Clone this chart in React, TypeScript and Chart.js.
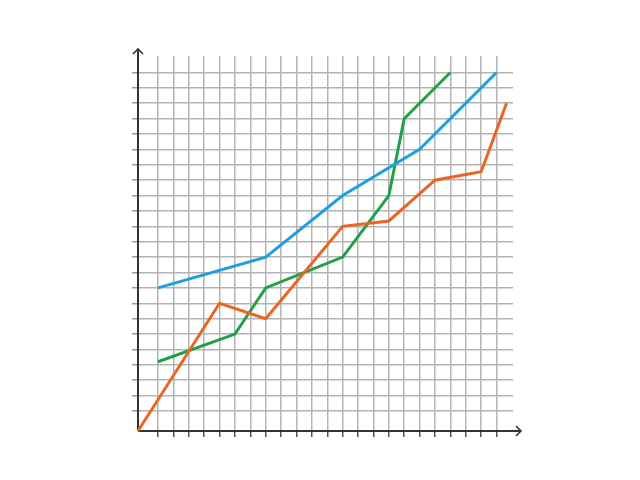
import React, { useEffect, useRef } from "react";
import { Chart, registerables } from "chart.js";

Chart.register(...registerables);

// Grid line positions (in grid units)
const gridTicks = [1, 2, 3, 4, 5, 6, 7, 8, 9, 10, 11, 12, 13, 14, 15, 16, 17, 18, 19, 20, 21, 22, 23];
const axisMin = -0.3;
const axisMax = 24.07;

const blueX = [1, 8, 13, 18, 23];
const blueY = [9, 11, 15, 18, 23];

const orangeX = [-0.3, 5, 8, 13, 16, 19, 22, 23.65];
const orangeY = [-0.3, 8, 7, 13, 13.35, 16, 16.55, 21];

const greenX = [1, 6, 8, 13, 16, 17, 20];
const greenY = [4.2, 6, 9, 11, 15, 20, 23];

const toPoints = (xs: number[], ys: number[]) => xs.map((x, i) => ({ x, y: ys[i] }));

const axesPlugin = {
  id: "axesArrows",
  beforeDatasetsDraw(chart: any) {
    const { ctx, chartArea } = chart;
    const x0 = chartArea.left;
    const y0 = chartArea.bottom;
    const xEnd = chartArea.right + 8;
    const yEnd = chartArea.top - 7;
    ctx.save();
    ctx.strokeStyle = "#333333";
    ctx.lineWidth = 2;
    ctx.lineCap = "butt";
    ctx.beginPath();
    ctx.moveTo(x0, y0);
    ctx.lineTo(xEnd, y0);
    ctx.moveTo(x0, y0);
    ctx.lineTo(x0, yEnd);
    ctx.stroke();
    ctx.lineWidth = 1.6;
    ctx.beginPath();
    ctx.moveTo(xEnd - 5, y0 - 5);
    ctx.lineTo(xEnd, y0);
    ctx.lineTo(xEnd - 5, y0 + 5);
    ctx.moveTo(x0 - 5, yEnd + 5);
    ctx.lineTo(x0, yEnd);
    ctx.lineTo(x0 + 5, yEnd + 5);
    ctx.stroke();
    ctx.restore();
  },
};

export default function App() {
  const canvasRef = useRef<HTMLCanvasElement | null>(null);

  useEffect(() => {
    if (!canvasRef.current) return;
    const setTicks = (scale: any) => {
      scale.ticks = gridTicks.map((v) => ({ value: v }));
    };
    const chart = new Chart(canvasRef.current, {
      type: "scatter",
      data: {
        datasets: [
          {
            label: "Blue",
            data: toPoints(blueX, blueY),
            borderColor: "#1f9ee0",
            showLine: true,
            borderWidth: 3,
            pointRadius: 0,
            clip: false,
          },
          {
            label: "Orange",
            data: toPoints(orangeX, orangeY),
            borderColor: "#ea6424",
            showLine: true,
            borderWidth: 3,
            pointRadius: 0,
            clip: false,
          },
          {
            label: "Green",
            data: toPoints(greenX, greenY),
            borderColor: "#21a04b",
            showLine: true,
            borderWidth: 3,
            pointRadius: 0,
            clip: false,
          },
        ],
      },
      options: {
        responsive: false,
        animation: false,
        devicePixelRatio: 1,
        layout: { padding: { left: 132, right: 127, top: 56, bottom: 43 } },
        plugins: { legend: { display: false }, tooltip: { enabled: false } },
        scales: {
          x: {
            type: "linear",
            min: axisMin,
            max: axisMax,
            afterBuildTicks: setTicks,
            ticks: { display: false },
            grid: { color: "#b3b3b3", lineWidth: 1.5, tickLength: 6, tickColor: "#555555", drawTicks: true },
            border: { display: false },
          },
          y: {
            type: "linear",
            min: axisMin,
            max: axisMax,
            afterBuildTicks: setTicks,
            ticks: { display: false },
            grid: { color: "#b3b3b3", lineWidth: 1.5, tickLength: 6, tickColor: "#999999", drawTicks: true },
            border: { display: false },
          },
        },
      },
      plugins: [axesPlugin],
    });
    return () => chart.destroy();
  }, []);

  return (
    <div style={{ position: "absolute", left: 0, top: 0, width: 640, height: 480, background: "#ffffff" }}>
      <canvas ref={canvasRef} width={640} height={480} />
    </div>
  );
}
